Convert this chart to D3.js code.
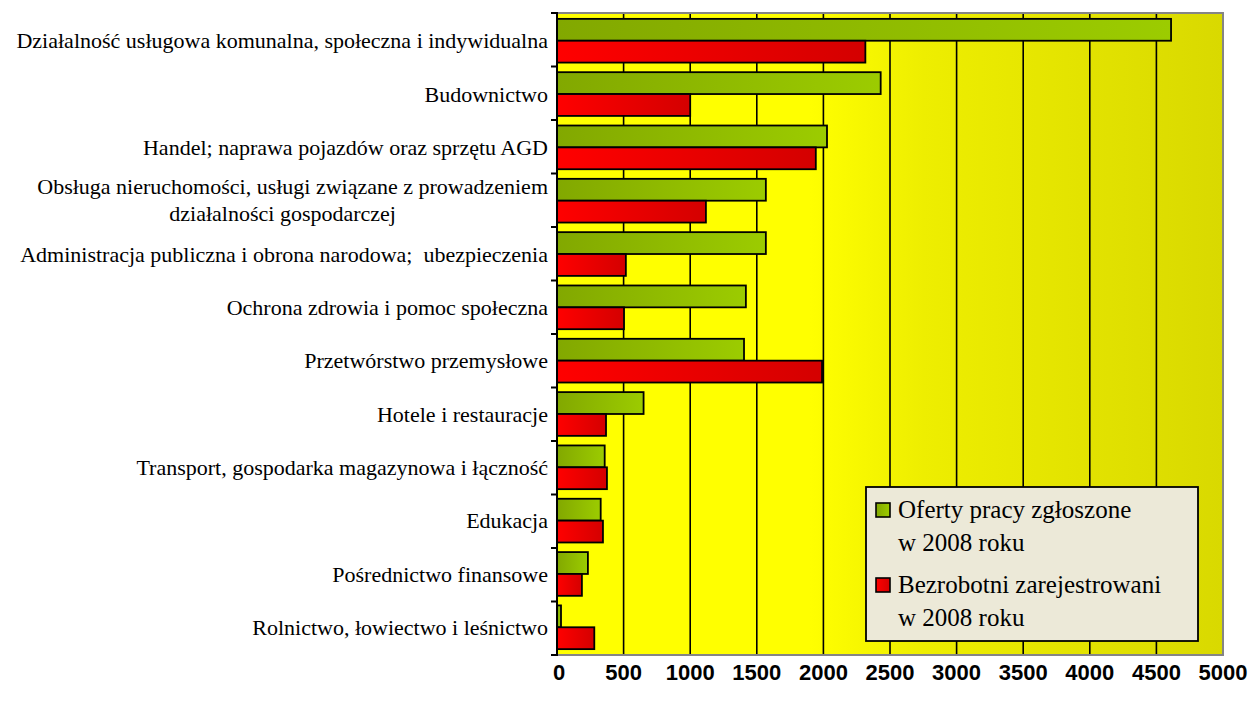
<!DOCTYPE html>
<html>
<head>
<meta charset="utf-8">
<script src="https://cdn.jsdelivr.net/npm/d3@7"></script>
<style>
  html, body { margin: 0; padding: 0; background: #ffffff; }
  svg { display: block; }
  text { white-space: pre; }
</style>
</head>
<body>
<svg id="chart" width="1260" height="704"></svg>
<script>
const categories = [
  "Działalność usługowa komunalna, społeczna i indywidualna",
  "Budownictwo",
  "Handel; naprawa pojazdów oraz sprzętu AGD",
  "Obsługa nieruchomości, usługi związane z prowadzeniem|działalności gospodarczej",
  "Administracja publiczna i obrona narodowa;  ubezpieczenia",
  "Ochrona zdrowia i pomoc społeczna",
  "Przetwórstwo przemysłowe",
  "Hotele i restauracje",
  "Transport, gospodarka magazynowa i łączność",
  "Edukacja",
  "Pośrednictwo finansowe",
  "Rolnictwo, łowiectwo i leśnictwo"
];
const oferty = [4610, 2430, 2027, 1568, 1568, 1418, 1404, 650, 358, 328, 232, 30];
const bezrobotni = [2315, 1000, 1943, 1118, 517, 503, 1990, 368, 375, 345, 187, 280];
const seriesNames = ["Oferty pracy zgłoszone|w 2008 roku", "Bezrobotni zarejestrowani|w 2008 roku"];
const xTicks = [0, 500, 1000, 1500, 2000, 2500, 3000, 3500, 4000, 4500, 5000];

const svg = d3.select("#chart");
const plot = { left: 557, right: 1223, top: 13, bottom: 655 };

const x = d3.scaleLinear().domain([0, 5000]).range([plot.left, plot.right]);
const y = d3.scaleBand().domain(d3.range(categories.length))
  .range([plot.top, plot.bottom]).paddingInner(0.18).paddingOuter(0.11);
const ySub = d3.scaleBand().domain([0, 1]).range([0, y.bandwidth()]).padding(0);

const defs = svg.append("defs");
const bg = defs.append("linearGradient").attr("id", "bgGrad")
  .attr("x1", "0%").attr("x2", "100%").attr("y1", "0%").attr("y2", "0%");
bg.append("stop").attr("offset", "0%").attr("stop-color", "#FFFF00");
bg.append("stop").attr("offset", "38%").attr("stop-color", "#FFFF00");
bg.append("stop").attr("offset", "55%").attr("stop-color", "#EEEE00");
bg.append("stop").attr("offset", "100%").attr("stop-color", "#D9D900");

const gG = defs.append("linearGradient").attr("id", "greenGrad")
  .attr("x1", "0%").attr("x2", "100%");
gG.append("stop").attr("offset", "0%").attr("stop-color", "#82A800");
gG.append("stop").attr("offset", "100%").attr("stop-color", "#9CCC00");
const rG = defs.append("linearGradient").attr("id", "redGrad")
  .attr("x1", "0%").attr("x2", "100%");
rG.append("stop").attr("offset", "0%").attr("stop-color", "#FF0000");
rG.append("stop").attr("offset", "100%").attr("stop-color", "#D40000");
const fills = ["url(#greenGrad)", "url(#redGrad)"];

// plot background
svg.append("rect")
  .attr("x", plot.left).attr("y", plot.top)
  .attr("width", plot.right - plot.left).attr("height", plot.bottom - plot.top)
  .attr("fill", "url(#bgGrad)");

// gridlines
svg.append("g").selectAll("line").data(xTicks.slice(1, -1)).join("line")
  .attr("x1", d => x(d)).attr("x2", d => x(d))
  .attr("y1", plot.top).attr("y2", plot.bottom)
  .attr("stroke", "#000").attr("stroke-width", 1.6);

// border (gray) top, right, bottom
svg.append("path")
  .attr("d", `M${plot.left},${plot.top}H${plot.right}V${plot.bottom}H${plot.left}`)
  .attr("fill", "none").attr("stroke", "#858585").attr("stroke-width", 2);

// bars
const rows = categories.map((c, i) => ({ i, vals: [oferty[i], bezrobotni[i]] }));
const grp = svg.append("g").selectAll("g").data(rows).join("g")
  .attr("transform", d => `translate(0,${y(d.i)})`);
grp.selectAll("rect").data(d => d.vals.map((v, s) => ({ v, s }))).join("rect")
  .attr("x", x(0))
  .attr("y", d => ySub(d.s))
  .attr("width", d => x(d.v) - x(0))
  .attr("height", ySub.bandwidth())
  .attr("fill", d => fills[d.s])
  .attr("stroke", "#000").attr("stroke-width", 1.8);

// left axis line + ticks
const tickYs = d3.range(categories.length + 1).map(k => plot.top + k * (plot.bottom - plot.top) / categories.length);
svg.append("line").attr("x1", plot.left).attr("x2", plot.left)
  .attr("y1", plot.top - 1).attr("y2", plot.bottom + 1)
  .attr("stroke", "#000").attr("stroke-width", 2);
svg.append("g").selectAll("line").data(tickYs).join("line")
  .attr("x1", plot.left - 6).attr("x2", plot.left)
  .attr("y1", d => d).attr("y2", d => d)
  .attr("stroke", "#000").attr("stroke-width", 2);

// category labels
const labelFont = "'Liberation Serif', 'Times New Roman', serif";
const labG = svg.append("g").attr("font-family", labelFont).attr("font-size", 22).attr("fill", "#000");
categories.forEach((c, i) => {
  const lines = c.split("|");
  const cy = y(i) + y.bandwidth() / 2;
  if (lines.length === 1) {
    labG.append("text").attr("x", 548).attr("y", cy).attr("dy", "0.35em")
      .attr("text-anchor", "end").text(lines[0]);
  } else {
    const t1 = labG.append("text").attr("x", 548).attr("y", cy - 14).attr("dy", "0.35em")
      .attr("text-anchor", "end").text(lines[0]);
    const w = t1.node().getComputedTextLength();
    labG.append("text").attr("x", 548 - w / 2 - 10).attr("y", cy + 13).attr("dy", "0.35em")
      .attr("text-anchor", "middle").text(lines[1]);
  }
});

// x tick labels
svg.append("g").attr("font-family", "'Liberation Sans', Arial, sans-serif")
  .attr("font-weight", "bold").attr("font-size", 22).attr("fill", "#000")
  .selectAll("text").data(xTicks).join("text")
  .attr("x", d => x(d) + (d === 0 ? 2 : 0)).attr("y", 680)
  .attr("text-anchor", "middle").text(d => d);

// legend
const leg = svg.append("g");
leg.append("rect").attr("x", 866).attr("y", 487).attr("width", 332).attr("height", 154)
  .attr("fill", "#ECE9D8").attr("stroke", "#000").attr("stroke-width", 1.8);
const legY = [503, 578];
seriesNames.forEach((name, s) => {
  leg.append("rect").attr("x", 876).attr("y", legY[s]).attr("width", 14).attr("height", 14)
    .attr("fill", fills[s]).attr("stroke", "#000").attr("stroke-width", 1.6);
  const lines = name.split("|");
  lines.forEach((ln, k) => {
    leg.append("text").attr("x", 898).attr("y", legY[s] + 15 + k * 33)
      .attr("font-family", labelFont).attr("font-size", 25).attr("fill", "#000")
      .text(ln);
  });
});
</script>
</body>
</html>
